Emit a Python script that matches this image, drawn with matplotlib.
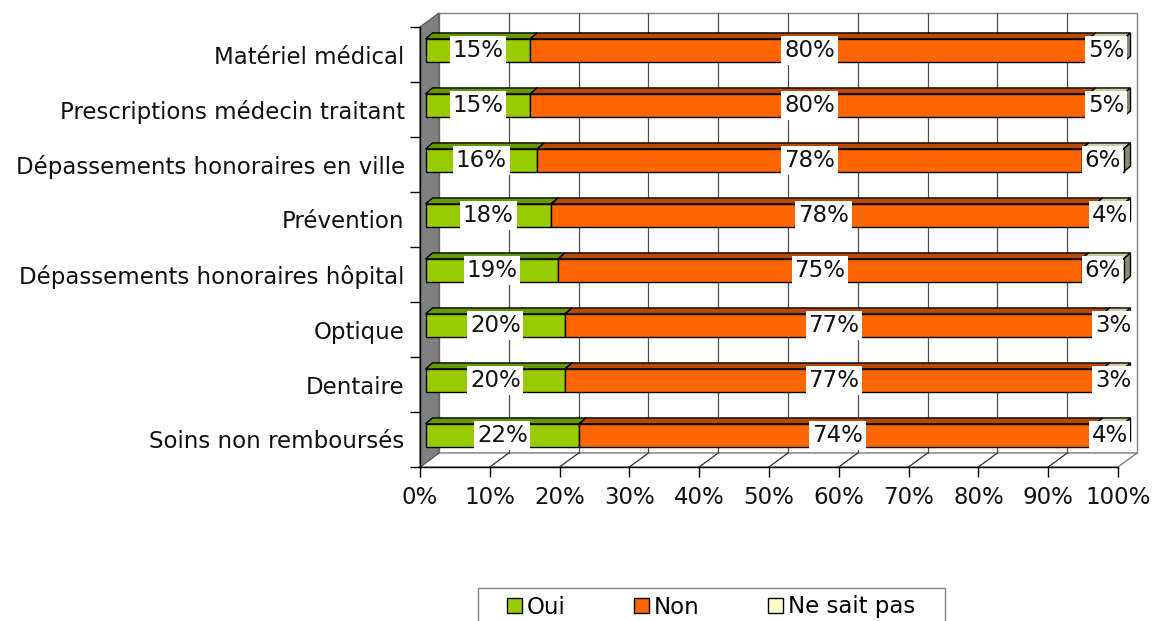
import matplotlib.pyplot as plt
from matplotlib.patches import Polygon, Patch, Rectangle
from matplotlib.transforms import ScaledTranslation, IdentityTransform

categories = ['Soins non remboursés', 'Dentaire', 'Optique',
              'Dépassements honoraires hôpital', 'Prévention',
              'Dépassements honoraires en ville',
              'Prescriptions médecin traitant', 'Matériel médical']
oui = [22, 20, 20, 19, 18, 16, 15, 15]
non = [74, 77, 77, 75, 78, 78, 80, 80]
nsp = [4, 3, 3, 6, 4, 6, 5, 5]
series = ['Oui', 'Non', 'Ne sait pas']
xticks = [0, 10, 20, 30, 40, 50, 60, 70, 80, 90, 100]

front_colors = ['#99CC00', '#FF6600', '#FFFFCC']
top_colors = ['#669900', '#B84A00', '#CCCCA0']
side_colors = ['#5C8A00', '#A04000', '#8C8C70']

plt.rcParams['font.family'] = 'DejaVu Sans'
FS = 16.5

fig = plt.figure(figsize=(11.58, 6.21), dpi=100)
ax = fig.add_axes([420 / 1158, 154 / 621, 698 / 1158, 440 / 621])
ax.set_xlim(0, 100)
ax.set_ylim(0, len(categories))
ax.patch.set_visible(False)

wall = (19, 14)   # depth of the chart box in pixels
boff = (5.5, 4)   # bar front face offset
bdep = (7, 6)     # bar depth


def pt(x, y, d=(0, 0)):
    X, Y = ax.transData.transform((x, y))
    return (X + d[0], Y + d[1])


def poly(pts, **kw):
    p = Polygon(pts, closed=True, transform=IdentityTransform(), clip_on=False, **kw)
    ax.add_patch(p)
    return p


def add(a, b):
    return (a[0] + b[0], a[1] + b[1])


n = len(categories)
# back wall
poly([pt(0, 0, wall), pt(100, 0, wall), pt(100, n, wall), pt(0, n, wall)],
     facecolor='white', edgecolor='#808080', lw=1, zorder=0)
# floor
poly([pt(0, 0), pt(100, 0), pt(100, 0, wall), pt(0, 0, wall)],
     facecolor='white', edgecolor='#808080', lw=1, zorder=0)
for xv in xticks[1:-1]:
    a, b = pt(xv, 0), pt(xv, 0, wall)
    ax.plot([a[0], b[0]], [a[1], b[1]], color='#303030', lw=0.9,
            transform=IdentityTransform(), clip_on=False, zorder=0.5)
    a, b = pt(xv, 0, wall), pt(xv, n, wall)
    ax.plot([a[0], b[0]], [a[1], b[1]], color='#505050', lw=0.9,
            transform=IdentityTransform(), clip_on=False, zorder=0.5)
# left wall
poly([pt(0, 0), pt(0, 0, wall), pt(0, n, wall), pt(0, n)],
     facecolor='#808080', edgecolor='#606060', lw=1, zorder=1)

# bars
h = 0.21
for i in range(n):
    vals = [oui[i], non[i], nsp[i]]
    left = 0
    for k, v in enumerate(vals):
        right = left + v
        y0, y1 = i + 0.5 - h, i + 0.5 + h
        fl = add(pt(left, y1), boff)
        fr = add(pt(right, y1), boff)
        br = add(pt(right, y0), boff)
        # top face
        poly([fl, fr, add(fr, bdep), add(fl, bdep)],
             facecolor=top_colors[k], edgecolor='black', lw=1, zorder=2)
        # right side face
        poly([br, fr, add(fr, bdep), add(br, bdep)],
             facecolor=side_colors[k], edgecolor='black', lw=1, zorder=2)
        # front face
        poly([add(pt(left, y0), boff), br, fr, fl],
             facecolor=front_colors[k], edgecolor='black', lw=1, zorder=2)
        left = right

# value labels
lab_tr = ax.transData + ScaledTranslation(boff[0] / 100, boff[1] / 100, fig.dpi_scale_trans)
for i in range(n):
    vals = [oui[i], non[i], nsp[i]]
    left = 0
    for v in vals:
        ax.text(left + v / 2, i + 0.5, f'{v}%', transform=lab_tr,
                ha='center', va='center', fontsize=FS, color='#111111',
                bbox=dict(facecolor='white', edgecolor='none', pad=2),
                zorder=5, clip_on=False)
        left += v

# axes
for s in ['top', 'right']:
    ax.spines[s].set_visible(False)
for s in ['left', 'bottom']:
    ax.spines[s].set_color('black')
    ax.spines[s].set_linewidth(1)
    ax.spines[s].set_zorder(3)
ax.set_xticks(xticks)
ax.set_xticklabels([f'{x}%' for x in xticks], fontsize=FS, color='#111111')
ax.tick_params(axis='x', direction='out', length=7, width=1, pad=7)
ax.set_yticks(range(n + 1))
ax.set_yticklabels([])
ax.tick_params(axis='y', which='major', direction='out', length=7, width=1)
ax.set_yticks([i + 0.5 for i in range(n)], minor=True)
ax.set_yticklabels(categories, minor=True, fontsize=FS, color='#111111')
ax.tick_params(axis='y', which='minor', length=0, pad=11)

# legend
handles = [Patch(facecolor=c, edgecolor='black', lw=1) for c in front_colors]
fig.legend(handles, series, loc='center', bbox_to_anchor=(711 / 1158, 14 / 621),
           ncol=3, frameon=False, fontsize=FS, handlelength=0.65, handleheight=0.65,
           handletextpad=0.2, columnspacing=3.0)
fig.patches.append(Rectangle((478 / 1158, -0.05), 467 / 1158, 33 / 621 + 0.05,
                             transform=fig.transFigure, facecolor='none',
                             edgecolor='#808080', lw=1))

fig.savefig('out.png', dpi=100)
